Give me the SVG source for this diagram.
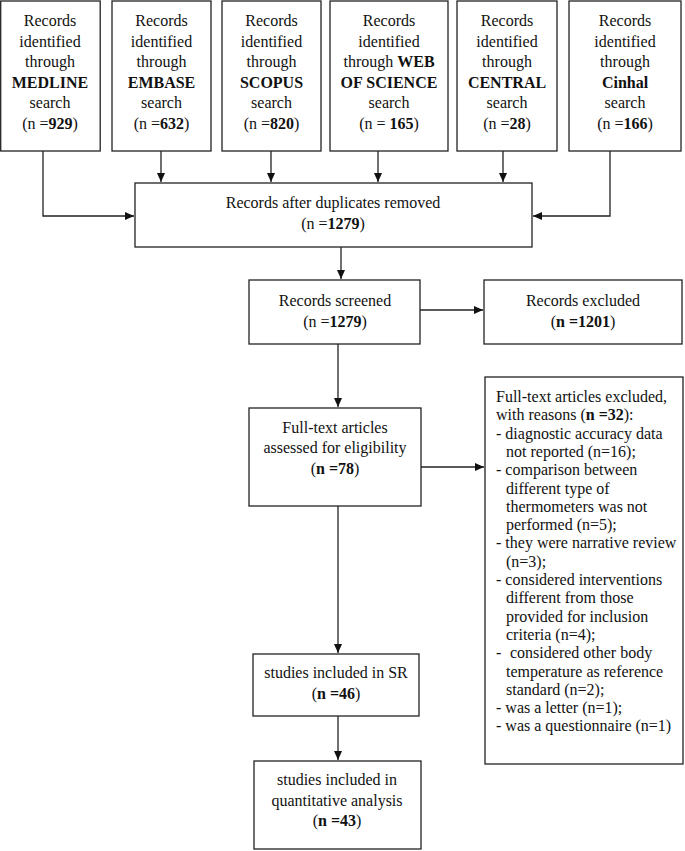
<svg xmlns="http://www.w3.org/2000/svg" width="685" height="851" viewBox="0 0 685 851">
<style>
.box{fill:#fff;stroke:#222;stroke-width:1.3}
.t{font-family:"Liberation Serif","Times New Roman",serif;font-size:16px;fill:#111}
.c{text-anchor:middle}
.b{font-weight:bold}
.ln{fill:none;stroke:#222;stroke-width:1.3}
</style>
<defs>
<marker id="ah" markerWidth="10" markerHeight="10" refX="9" refY="5" orient="auto" markerUnits="userSpaceOnUse">
<path d="M0,1 L9,5 L0,9 Z" fill="#111"/>
</marker>
</defs>
<rect width="685" height="851" fill="#fff"/>
<g id="medline">
<rect class="box" x="0.7" y="1" width="99.5" height="150"/>
<text class="t c" x="50" y="26">Records</text>
<text class="t c" x="50" y="47">identified</text>
<text class="t c" x="50" y="67">through</text>
<text class="t c b" x="50" y="88">MEDLINE</text>
<text class="t c" x="50" y="108">search</text>
<text class="t c" x="50" y="129">(n =<tspan class="b">929</tspan>)</text>
</g>
<g id="embase">
<rect class="box" x="112" y="1" width="99" height="150"/>
<text class="t c" x="161.5" y="26">Records</text>
<text class="t c" x="161.5" y="47">identified</text>
<text class="t c" x="161.5" y="67">through</text>
<text class="t c b" x="161.5" y="88">EMBASE</text>
<text class="t c" x="161.5" y="108">search</text>
<text class="t c" x="161.5" y="129">(n =<tspan class="b">632</tspan>)</text>
</g>
<g id="scopus">
<rect class="box" x="222" y="1" width="99" height="150"/>
<text class="t c" x="271.5" y="26">Records</text>
<text class="t c" x="271.5" y="47">identified</text>
<text class="t c" x="271.5" y="67">through</text>
<text class="t c b" x="271.5" y="88">SCOPUS</text>
<text class="t c" x="271.5" y="108">search</text>
<text class="t c" x="271.5" y="129">(n =<tspan class="b">820</tspan>)</text>
</g>
<g id="wos">
<rect class="box" x="330" y="1" width="118" height="150"/>
<text class="t c" x="389" y="26">Records</text>
<text class="t c" x="389" y="47">identified</text>
<text class="t c" x="389" y="67">through <tspan class="b">WEB</tspan></text>
<text class="t c b" x="389" y="88">OF SCIENCE</text>
<text class="t c" x="389" y="108">search</text>
<text class="t c" x="389" y="129">(n = <tspan class="b">165</tspan>)</text>
</g>
<g id="central">
<rect class="box" x="457" y="1" width="100" height="150"/>
<text class="t c" x="507" y="26">Records</text>
<text class="t c" x="507" y="47">identified</text>
<text class="t c" x="507" y="67">through</text>
<text class="t c b" x="507" y="88">CENTRAL</text>
<text class="t c" x="507" y="108">search</text>
<text class="t c" x="507" y="129">(n =<tspan class="b">28</tspan>)</text>
</g>
<g id="cinhal">
<rect class="box" x="569" y="1" width="112" height="150"/>
<text class="t c" x="625" y="26">Records</text>
<text class="t c" x="625" y="47">identified</text>
<text class="t c" x="625" y="67">through</text>
<text class="t c b" x="625" y="88">Cinhal</text>
<text class="t c" x="625" y="108">search</text>
<text class="t c" x="625" y="129">(n =<tspan class="b">166</tspan>)</text>
</g>
<g id="duplicates">
<rect class="box" x="135" y="183" width="397" height="64"/>
<text class="t c" x="333" y="208">Records after duplicates removed</text>
<text class="t c" x="333" y="229">(n =<tspan class="b">1279</tspan>)</text>
</g>
<g id="screened">
<rect class="box" x="249" y="280" width="171" height="64"/>
<text class="t c" x="335" y="306">Records screened</text>
<text class="t c" x="335" y="327">(n =<tspan class="b">1279</tspan>)</text>
</g>
<g id="excluded">
<rect class="box" x="484" y="280" width="198" height="64"/>
<text class="t c" x="583" y="306">Records excluded</text>
<text class="t c" x="583" y="327">(<tspan class="b">n =1201</tspan>)</text>
</g>
<g id="fulltext">
<rect class="box" x="249" y="408" width="172" height="98"/>
<text class="t c" x="335" y="433">Full-text articles</text>
<text class="t c" x="335" y="453">assessed for eligibility</text>
<text class="t c" x="335" y="474">(<tspan class="b">n =78</tspan>)</text>
</g>
<g id="ftexcluded">
<rect class="box" x="485" y="377" width="198" height="387"/>
<text class="t" x="496" y="402">Full-text articles excluded,</text>
<text class="t" x="496" y="420.3">with reasons (<tspan class="b">n =32</tspan>):</text>
<text class="t" x="496" y="438.6">- diagnostic accuracy data</text>
<text class="t" x="506" y="456.9">not reported (n=16);</text>
<text class="t" x="496" y="475.2">- comparison between</text>
<text class="t" x="506" y="493.5">different type of</text>
<text class="t" x="506" y="511.8">thermometers was not</text>
<text class="t" x="506" y="530.1">performed (n=5);</text>
<text class="t" x="496" y="548.4">- they were narrative review</text>
<text class="t" x="506" y="566.7">(n=3);</text>
<text class="t" x="496" y="585">- considered interventions</text>
<text class="t" x="506" y="603.3">different from those</text>
<text class="t" x="506" y="621.6">provided for inclusion</text>
<text class="t" x="506" y="639.9">criteria (n=4);</text>
<text class="t" x="496" y="658.2">-</text>
<text class="t" x="510" y="658.2">considered other body</text>
<text class="t" x="506" y="676.5">temperature as reference</text>
<text class="t" x="506" y="694.8">standard (n=2);</text>
<text class="t" x="496" y="713.1">- was a letter (n=1);</text>
<text class="t" x="496" y="731.4">- was a questionnaire (n=1)</text>
</g>
<g id="sr">
<rect class="box" x="253" y="654" width="166" height="62"/>
<text class="t c" x="336" y="678">studies included in SR</text>
<text class="t c" x="336" y="699">(<tspan class="b">n =46</tspan>)</text>
</g>
<g id="quant">
<rect class="box" x="254" y="761" width="167" height="88"/>
<text class="t c" x="337" y="785">studies included in</text>
<text class="t c" x="337" y="806">quantitative analysis</text>
<text class="t c" x="337" y="826">(<tspan class="b">n =43</tspan>)</text>
</g>
<g id="connectors">
<path class="ln" d="M43,151 V216 H134" marker-end="url(#ah)"/>
<path class="ln" d="M161,151 V182" marker-end="url(#ah)"/>
<path class="ln" d="M271,151 V182" marker-end="url(#ah)"/>
<path class="ln" d="M378,151 V182" marker-end="url(#ah)"/>
<path class="ln" d="M503,151 V182" marker-end="url(#ah)"/>
<path class="ln" d="M610,151 V216 H533" marker-end="url(#ah)"/>
<path class="ln" d="M341,247 V279" marker-end="url(#ah)"/>
<path class="ln" d="M420,310 H483" marker-end="url(#ah)"/>
<path class="ln" d="M338,344 V407" marker-end="url(#ah)"/>
<path class="ln" d="M421,467 H484" marker-end="url(#ah)"/>
<path class="ln" d="M338,506 V653" marker-end="url(#ah)"/>
<path class="ln" d="M338,716 V760" marker-end="url(#ah)"/>
</g>
</svg>
